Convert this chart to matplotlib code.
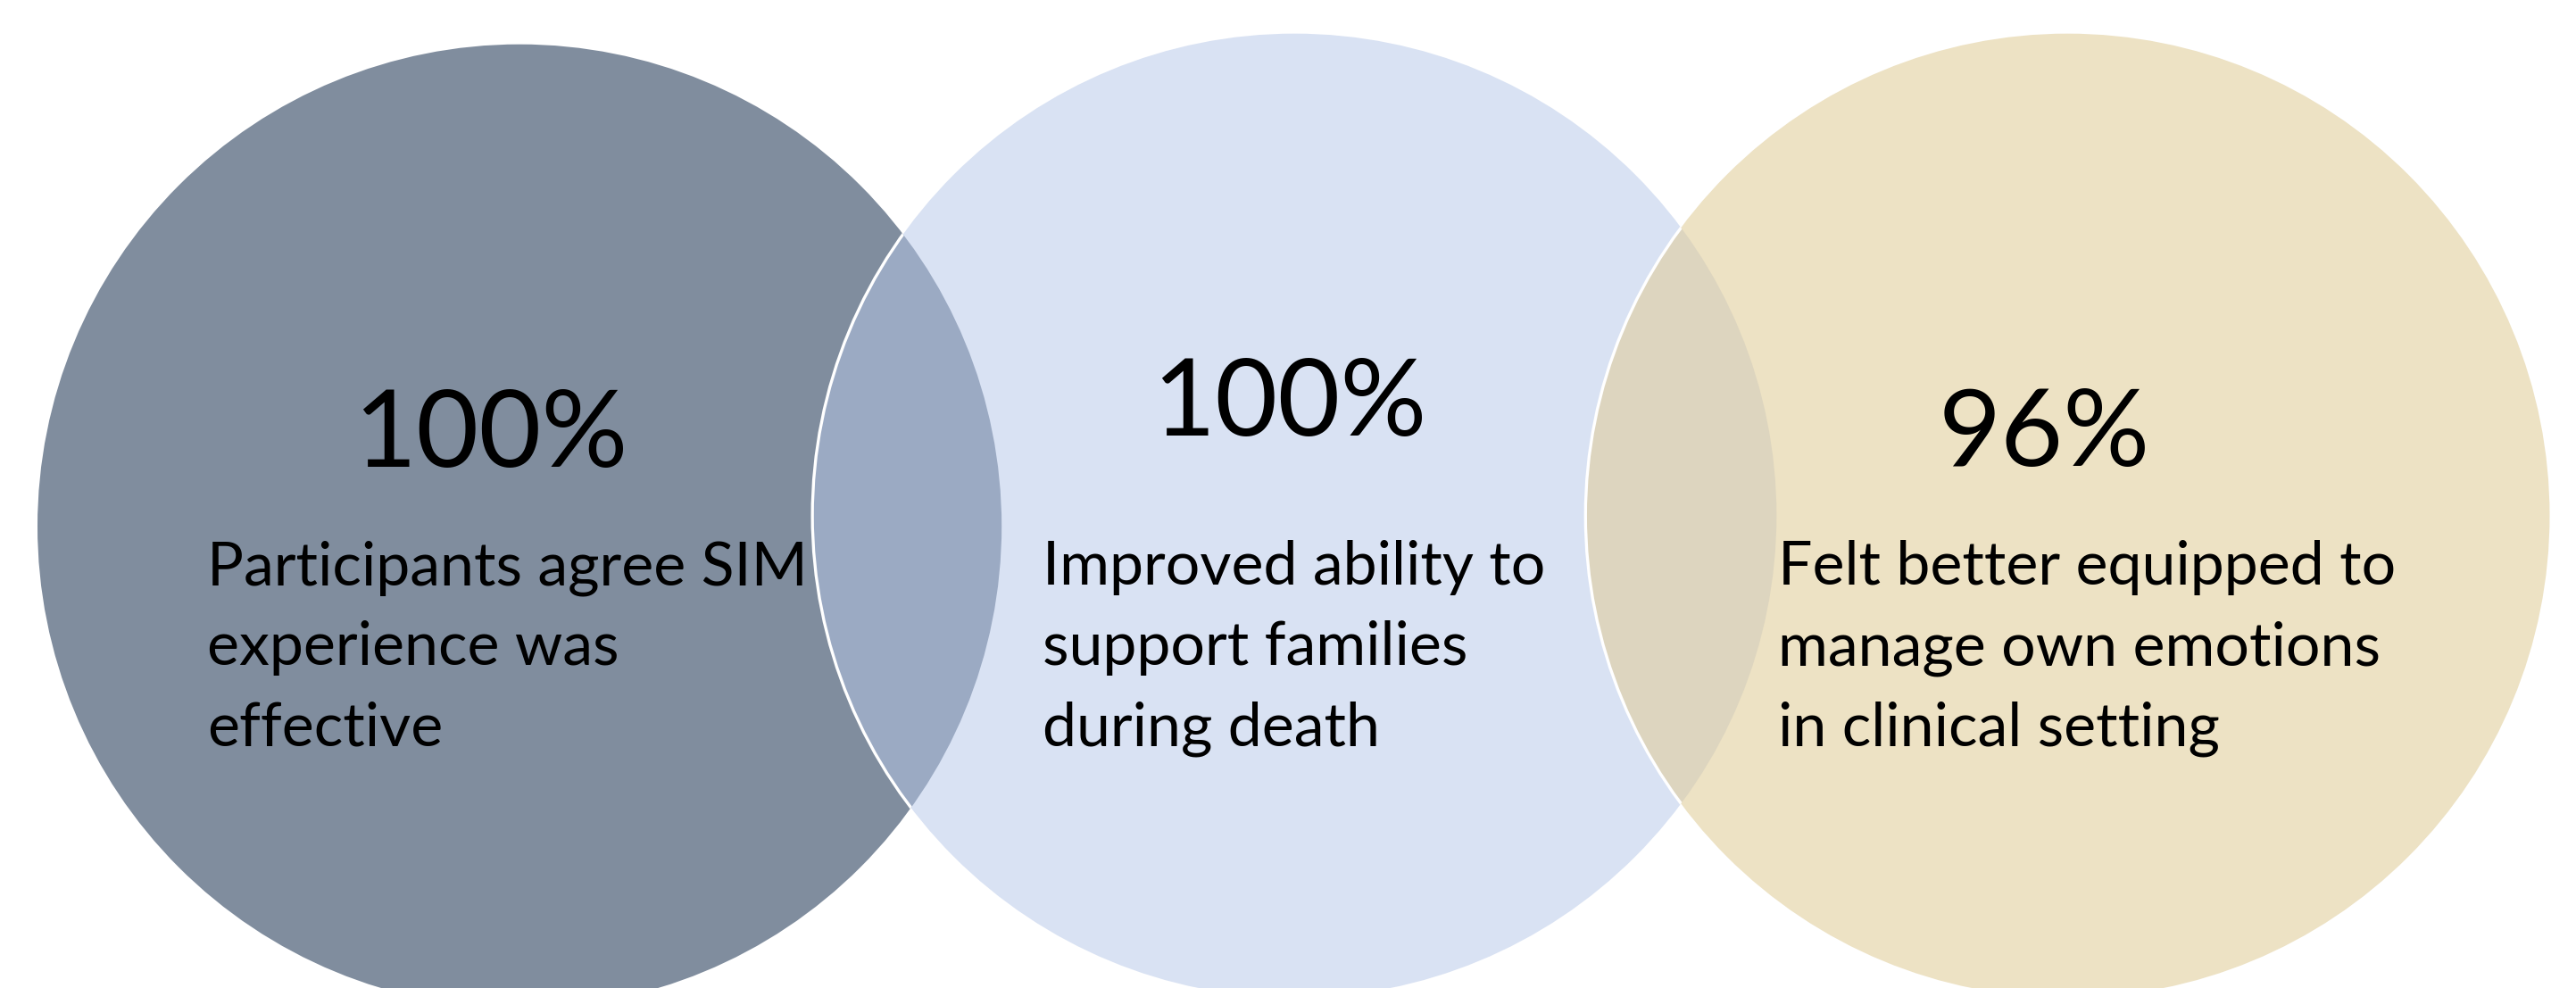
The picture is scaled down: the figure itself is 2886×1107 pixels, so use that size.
import matplotlib
matplotlib.use("Agg")
import matplotlib.pyplot as plt
from matplotlib.patches import Circle

# ---- data -------------------------------------------------------------
percentages = [100, 100, 96]
statements = [
    ["Participants agree SIM", "experience was", "effective"],
    ["Improved ability to", "support families", "during death"],
    ["Felt better equipped to", "manage own emotions", "in clinical setting"],
]

# ---- styling ----------------------------------------------------------
circle_colors = ["#808D9E", "#D9E2F3", "#EDE2C4"]
overlap_colors = ["#9BAAC3", "#DDD5BF"]
font = ["Lato", "DejaVu Sans"]

W, H = 2886, 1107
centers = [(582, 590), (1450, 578), (2316, 578)]
radius = 540

number_pos = [(550, 523), (1445, 488), (2290, 522)]
text_x = [232, 1168, 1992]
text_y0 = 655
line_gap = 90

# half-pixel padding so the canvas truncates to exactly W x H
fig = plt.figure(figsize=((W + 0.5) / 100, (H + 0.5) / 100), dpi=100)
ax = fig.add_axes([0, 0, 1, 1])
ax.set_xlim(0, W)
ax.set_ylim(H, 0)
ax.set_aspect("equal")
ax.axis("off")

# base circles
circles = []
for (cx, cy), col in zip(centers, circle_colors):
    c = Circle((cx, cy), radius, facecolor=col, edgecolor="none", zorder=1)
    ax.add_patch(c)
    circles.append(c)

# overlapping lenses: next circle clipped to the previous one
for i, col in enumerate(overlap_colors):
    lens = Circle(centers[i + 1], radius, facecolor=col, edgecolor="white",
                  linewidth=2.4, zorder=2)
    ax.add_patch(lens)
    lens.set_clip_path(circles[i])

# labels
for i, p in enumerate(percentages):
    x, y = number_pos[i]
    ax.text(x, y, f"{p}%", fontsize=87, family=font, ha="center",
            va="baseline", color="black", zorder=3)
    for j, line in enumerate(statements[i]):
        ax.text(text_x[i], text_y0 + j * line_gap, line, fontsize=49,
                family=font, ha="left", va="baseline", color="black", zorder=3)

fig.savefig("out.png", dpi=100, facecolor="white")
